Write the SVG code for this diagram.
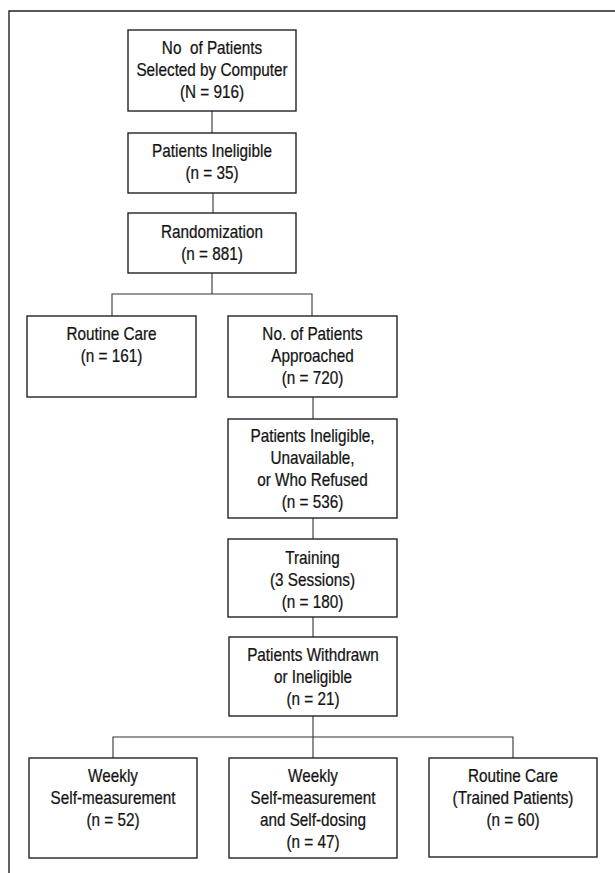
<svg xmlns="http://www.w3.org/2000/svg" width="615" height="873" viewBox="0 0 615 873">
<style>
.bg{fill:#fff}
.box{fill:#fff;stroke:#222;stroke-width:1.4}
.ln{fill:none;stroke:#333;stroke-width:1.1}
.frame{fill:none;stroke:#222;stroke-width:1.4}
text{font-family:"Liberation Sans",Arial,sans-serif;font-size:18px;fill:#141414;stroke:#141414;stroke-width:0.25;text-anchor:middle;white-space:pre}
</style>
<rect class="bg" x="0" y="0" width="615" height="873"/>
<path class="frame" d="M9,873 V11 H615"/>
<g id="connectors">
<path class="ln" d="M212,111 V133"/>
<path class="ln" d="M213,193 V213"/>
<path class="ln" d="M212,273 V294 M112,316 V294 H312 V316"/>
<path class="ln" d="M313,397 V419"/>
<path class="ln" d="M313,518 V539"/>
<path class="ln" d="M313,617 V637"/>
<path class="ln" d="M313,716 V758 M113,758 V737 H513 V758"/>
</g>
<g id="n1"><rect class="box" x="128" y="30" width="168" height="81"/>
<g transform="translate(212 0) scale(0.85 1)"><text x="0" y="54">No  of Patients</text><text x="0" y="76">Selected by Computer</text><text x="0" y="98">(N = 916)</text></g></g>
<g id="n2"><rect class="box" x="128" y="133" width="168" height="60"/>
<g transform="translate(212 0) scale(0.85 1)"><text x="0" y="157">Patients Ineligible</text><text x="0" y="179">(n = 35)</text></g></g>
<g id="n3"><rect class="box" x="128" y="213" width="168" height="60"/>
<g transform="translate(212 0) scale(0.85 1)"><text x="0" y="238">Randomization</text><text x="0" y="260">(n = 881)</text></g></g>
<g id="n4"><rect class="box" x="27" y="316" width="169" height="81"/>
<g transform="translate(111.5 0) scale(0.85 1)"><text x="0" y="340">Routine Care</text><text x="0" y="362">(n = 161)</text></g></g>
<g id="n5"><rect class="box" x="228" y="316" width="169" height="81"/>
<g transform="translate(312.5 0) scale(0.85 1)"><text x="0" y="340">No. of Patients</text><text x="0" y="362">Approached</text><text x="0" y="384">(n = 720)</text></g></g>
<g id="n6"><rect class="box" x="228" y="419" width="169" height="99"/>
<g transform="translate(312.5 0) scale(0.85 1)"><text x="0" y="442">Patients Ineligible,</text><text x="0" y="464">Unavailable,</text><text x="0" y="486">or Who Refused</text><text x="0" y="508">(n = 536)</text></g></g>
<g id="n7"><rect class="box" x="228" y="539" width="169" height="78"/>
<g transform="translate(312.5 0) scale(0.85 1)"><text x="0" y="564">Training</text><text x="0" y="586">(3 Sessions)</text><text x="0" y="608">(n = 180)</text></g></g>
<g id="n8"><rect class="box" x="229" y="637" width="168" height="79"/>
<g transform="translate(313 0) scale(0.85 1)"><text x="0" y="661">Patients Withdrawn</text><text x="0" y="683">or Ineligible</text><text x="0" y="705">(n = 21)</text></g></g>
<g id="n9"><rect class="box" x="29" y="758" width="168" height="100"/>
<g transform="translate(113 0) scale(0.85 1)"><text x="0" y="782">Weekly</text><text x="0" y="804">Self-measurement</text><text x="0" y="826">(n = 52)</text></g></g>
<g id="n10"><rect class="box" x="229" y="758" width="168" height="100"/>
<g transform="translate(313 0) scale(0.85 1)"><text x="0" y="782">Weekly</text><text x="0" y="804">Self-measurement</text><text x="0" y="826">and Self-dosing</text><text x="0" y="848">(n = 47)</text></g></g>
<g id="n11"><rect class="box" x="429" y="758" width="168" height="99"/>
<g transform="translate(513 0) scale(0.85 1)"><text x="0" y="782">Routine Care</text><text x="0" y="804">(Trained Patients)</text><text x="0" y="826">(n = 60)</text></g></g>
</svg>
